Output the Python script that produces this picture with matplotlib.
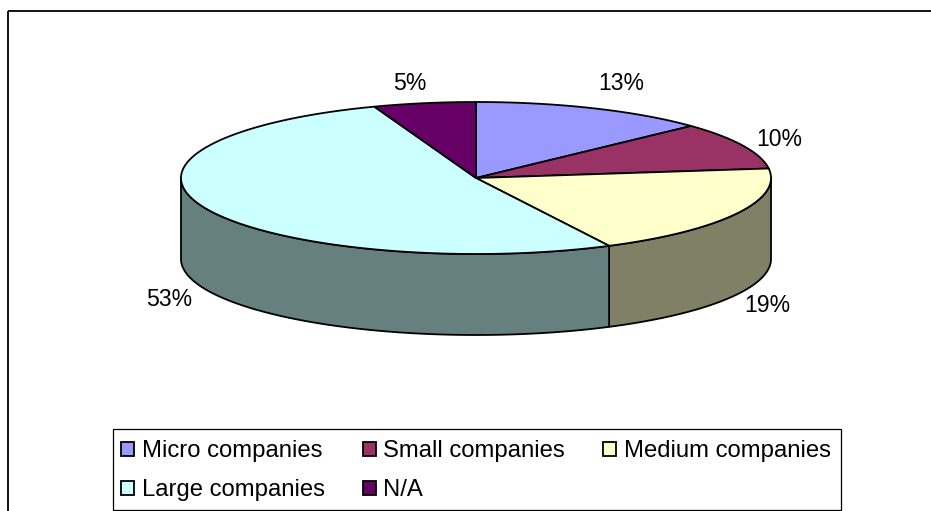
import numpy as np
import matplotlib
matplotlib.use("Agg")
import matplotlib.pyplot as plt
from matplotlib.patches import Polygon, Patch, Rectangle

plt.rcParams['font.family'] = ['Liberation Sans', 'DejaVu Sans']

categories = ["Micro companies", "Small companies", "Medium companies", "Large companies", "N/A"]
values = [13.0, 10.0, 19.55, 51.85, 5.6]
labels = ["13%", "10%", "19%", "53%", "5%"]
top_colors = ["#9999FF", "#993366", "#FFFFCC", "#CCFFFF", "#660066"]
side_colors = ["#4C4C80", "#4C1933", "#808066", "#668080", "#330033"]

CX, CY, RX, RY, DEPTH = 476, 178, 295, 76, 81
LW = 1.3

fig = plt.figure(figsize=(9.31, 5.11), dpi=100, facecolor="white")
ax = fig.add_axes([0, 0, 1, 1])
ax.set_xlim(0, 931)
ax.set_ylim(511, 0)
ax.axis("off")

ax.add_patch(Rectangle((8, 11), 1200, 1200, fill=False, ec="black", lw=1.3, zorder=0))


def rim(a0, a1, dy=0.0):
    t = np.radians(np.linspace(a0, a1, max(int(abs(a1 - a0) * 2), 2)))
    return np.column_stack([CX + RX * np.sin(t), CY - RY * np.cos(t) + dy])


edges = np.cumsum([0.0] + values) / sum(values) * 360.0

for i in range(len(values)):
    a0, a1 = max(edges[i], 90.0), min(edges[i + 1], 270.0)
    if a1 > a0:
        pts = np.vstack([rim(a0, a1), rim(a0, a1, DEPTH)[::-1]])
        ax.add_patch(Polygon(pts, closed=True, fc=side_colors[i], ec="black", lw=LW, joinstyle="round", zorder=2))

for i in range(len(values)):
    pts = np.vstack([[[CX, CY]], rim(edges[i], edges[i + 1])])
    ax.add_patch(Polygon(pts, closed=True, fc=top_colors[i], ec="black", lw=LW, joinstyle="round", zorder=3))

label_xy = [(621, 84), (779, 139), (767, 306), (169, 300), (410, 83)]
for text, (x, y) in zip(labels, label_xy):
    ax.text(x, y, text, ha="center", va="center", fontsize=16.6, color="black", zorder=4)

# legend frame, drawn separately so its box can sit independently of the row padding
ax.add_patch(Rectangle((113, 429), 728, 81, fc="white", ec="black", lw=0.9, zorder=4.5))

handles = [Patch(fc=c, ec="black", lw=LW) for c in top_colors]
order = [0, 3, 1, 4, 2]
leg = ax.legend([handles[i] for i in order], [categories[i] for i in order],
                ncol=3, loc="lower left", bbox_to_anchor=(113 / 931, 1 - 509 / 511),
                bbox_transform=ax.transAxes, borderaxespad=0, fontsize=17.2,
                handlelength=0.54, handleheight=0.54, handletextpad=0.33,
                columnspacing=1.59, labelspacing=0.70, borderpad=0.33,
                frameon=False)

fig.savefig("out.png", dpi=100, facecolor="white")
